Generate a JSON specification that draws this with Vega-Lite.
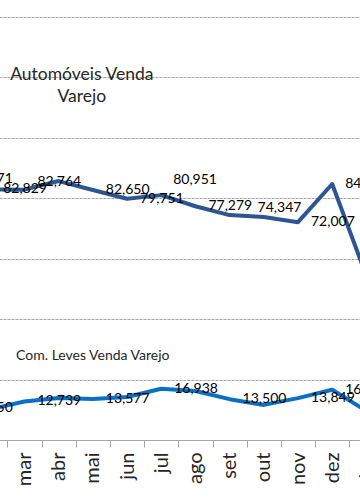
{
  "$schema": "https://vega.github.io/schema/vega-lite/v6.json",
  "width": 360,
  "height": 440,
  "autosize": "none",
  "padding": {"left": 0, "top": 0, "right": 0, "bottom": 64},
  "background": "white",
  "config": {"view": {"stroke": null}, "font": "Lato"},
  "datasets": {
    "vendas": [
      {"mes": "jan", "serie": "Automóveis", "valor": 83571, "rotulo": true},
      {"mes": "fev", "serie": "Automóveis", "valor": 82829, "rotulo": true},
      {"mes": "mar", "serie": "Automóveis", "valor": 82764, "rotulo": true},
      {"mes": "abr", "serie": "Automóveis", "valor": 85600, "rotulo": false},
      {"mes": "mai", "serie": "Automóveis", "valor": 82650, "rotulo": true},
      {"mes": "jun", "serie": "Automóveis", "valor": 79751, "rotulo": true},
      {"mes": "jul", "serie": "Automóveis", "valor": 80951, "rotulo": true},
      {"mes": "ago", "serie": "Automóveis", "valor": 77279, "rotulo": true},
      {"mes": "set", "serie": "Automóveis", "valor": 74347, "rotulo": true},
      {"mes": "out", "serie": "Automóveis", "valor": 73700, "rotulo": false},
      {"mes": "nov", "serie": "Automóveis", "valor": 72007, "rotulo": true},
      {"mes": "dez", "serie": "Automóveis", "valor": 84620, "rotulo": true},
      {"mes": "jan ", "serie": "Automóveis", "valor": 54200, "rotulo": false},
      {"mes": "jan", "serie": "Com. Leves", "valor": 10650, "rotulo": true},
      {"mes": "fev", "serie": "Com. Leves", "valor": 10200, "rotulo": false},
      {"mes": "mar", "serie": "Com. Leves", "valor": 12739, "rotulo": true},
      {"mes": "abr", "serie": "Com. Leves", "valor": 13900, "rotulo": false},
      {"mes": "mai", "serie": "Com. Leves", "valor": 13577, "rotulo": true},
      {"mes": "jun", "serie": "Com. Leves", "valor": 14200, "rotulo": false},
      {"mes": "jul", "serie": "Com. Leves", "valor": 16938, "rotulo": true},
      {"mes": "ago", "serie": "Com. Leves", "valor": 16200, "rotulo": false},
      {"mes": "set", "serie": "Com. Leves", "valor": 13500, "rotulo": true},
      {"mes": "out", "serie": "Com. Leves", "valor": 11600, "rotulo": false},
      {"mes": "nov", "serie": "Com. Leves", "valor": 13849, "rotulo": true},
      {"mes": "dez", "serie": "Com. Leves", "valor": 16620, "rotulo": true},
      {"mes": "jan ", "serie": "Com. Leves", "valor": 9600, "rotulo": false}
    ],
    "titulos": [
      {"titulo": ["Automóveis Venda", "Varejo"], "mes": "mai", "valor": 120000, "tipo": "auto"},
      {"titulo": "Com. Leves Venda Varejo", "mes": "mai", "valor": 20000, "tipo": "leves"}
    ]
  },
  "layer": [
    {
      "data": {"name": "vendas"},
      "mark": {"type": "line", "strokeWidth": 4, "strokeJoin": "round", "strokeCap": "round"},
      "encoding": {
        "x": {
          "field": "mes",
          "type": "nominal",
          "sort": null,
          "scale": {
            "type": "band",
            "domain": ["jan", "fev", "mar", "abr", "mai", "jun", "jul", "ago", "set", "out", "nov", "dez", "jan "],
            "range": [-61.1, 383.5],
            "paddingInner": 0,
            "paddingOuter": 0
          },
          "axis": {
            "title": null,
            "labelAngle": -90,
            "labelFont": "Lato",
            "labelFontSize": 20,
            "labelColor": "#262626",
            "labelPadding": 5,
            "tickBand": "extent",
            "tickSize": 7,
            "tickColor": "#A6A6A6",
            "domainColor": "#A6A6A6",
            "domainWidth": 1,
            "grid": false
          }
        },
        "y": {
          "field": "valor",
          "type": "quantitative",
          "scale": {"domain": [0, 145455], "nice": false, "zero": true},
          "axis": {
            "title": null,
            "labels": false,
            "ticks": false,
            "domain": false,
            "grid": true,
            "values": [20000, 40000, 60000, 80000, 100000, 120000, 140000],
            "gridColor": "#A6A6A6",
            "gridDash": [3, 1],
            "gridWidth": 1
          }
        },
        "color": {
          "field": "serie",
          "type": "nominal",
          "scale": {"domain": ["Automóveis", "Com. Leves"], "range": ["#2C5592", "#0A70C2"]},
          "legend": null
        }
      }
    },
    {
      "data": {"name": "vendas"},
      "transform": [
        {"filter": "datum.rotulo"},
        {"filter": "!(datum.serie === 'Automóveis' && indexof(['jan','mar','jul','set'], datum.mes) >= 0)"}
      ],
      "mark": {"type": "text", "align": "left", "baseline": "middle", "dx": 13, "font": "Lato", "fontSize": 14, "fill": "#000000"},
      "encoding": {
        "x": {"field": "mes", "type": "nominal", "sort": null},
        "y": {"field": "valor", "type": "quantitative"},
        "text": {"field": "valor", "type": "quantitative", "format": ","}
      }
    },
    {
      "data": {"name": "vendas"},
      "transform": [
        {"filter": "datum.rotulo && datum.serie === 'Automóveis' && indexof(['jan','mar'], datum.mes) >= 0"}
      ],
      "mark": {"type": "text", "align": "left", "baseline": "middle", "dx": 13, "dy": -8, "font": "Lato", "fontSize": 14, "fill": "#000000"},
      "encoding": {
        "x": {"field": "mes", "type": "nominal", "sort": null},
        "y": {"field": "valor", "type": "quantitative"},
        "text": {"field": "valor", "type": "quantitative", "format": ","}
      }
    },
    {
      "data": {"name": "vendas"},
      "transform": [
        {"filter": "datum.rotulo && datum.serie === 'Automóveis' && datum.mes === 'jul'"}
      ],
      "mark": {"type": "text", "align": "left", "baseline": "middle", "dx": 12, "dy": -15, "font": "Lato", "fontSize": 14, "fill": "#000000"},
      "encoding": {
        "x": {"field": "mes", "type": "nominal", "sort": null},
        "y": {"field": "valor", "type": "quantitative"},
        "text": {"field": "valor", "type": "quantitative", "format": ","}
      }
    },
    {
      "data": {"name": "vendas"},
      "transform": [
        {"filter": "datum.rotulo && datum.serie === 'Automóveis' && datum.mes === 'set'"}
      ],
      "mark": {"type": "text", "align": "left", "baseline": "middle", "dx": 28, "dy": -7, "font": "Lato", "fontSize": 14, "fill": "#000000"},
      "encoding": {
        "x": {"field": "mes", "type": "nominal", "sort": null},
        "y": {"field": "valor", "type": "quantitative"},
        "text": {"field": "valor", "type": "quantitative", "format": ","}
      }
    },
    {
      "data": {"name": "titulos"},
      "transform": [{"filter": "datum.tipo === 'auto'"}],
      "mark": {"type": "text", "align": "center", "baseline": "alphabetic", "font": "Lato", "fontSize": 17.5, "lineHeight": 22, "dx": -11, "dy": 3, "fill": "#262626"},
      "encoding": {
        "x": {"field": "mes", "type": "nominal", "sort": null},
        "y": {"field": "valor", "type": "quantitative"},
        "text": {"field": "titulo"}
      }
    },
    {
      "data": {"name": "titulos"},
      "transform": [{"filter": "datum.tipo === 'leves'"}],
      "mark": {"type": "text", "align": "center", "baseline": "alphabetic", "font": "Lato", "fontSize": 14, "dy": -20, "fill": "#262626"},
      "encoding": {
        "x": {"field": "mes", "type": "nominal", "sort": null},
        "y": {"field": "valor", "type": "quantitative"},
        "text": {"field": "titulo"}
      }
    }
  ]
}
